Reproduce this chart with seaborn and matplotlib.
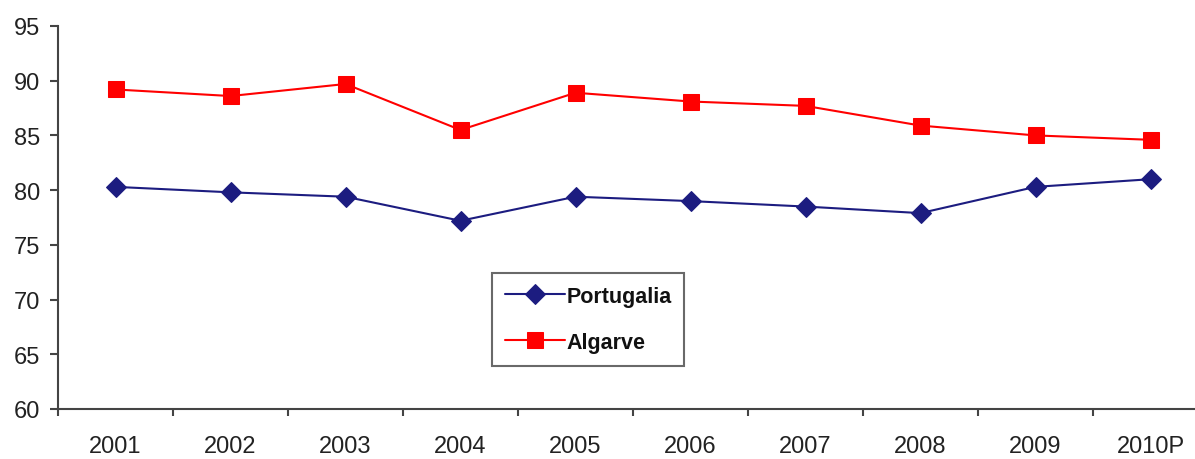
import matplotlib
matplotlib.use("Agg")
import matplotlib.pyplot as plt
import seaborn as sns
import pandas as pd
import numpy as np

# values
years = ['2001', '2002', '2003', '2004', '2005', '2006', '2007', '2008', '2009', '2010P']
portugalia = [80.3, 79.8, 79.4, 77.2, 79.4, 79.0, 78.5, 77.9, 80.3, 81.0]
algarve = [89.2, 88.6, 89.7, 85.5, 88.9, 88.1, 87.7, 85.9, 85.0, 84.6]

sns.set_style("white")
plt.rcParams['font.family'] = ['Liberation Sans', 'DejaVu Sans']

df = pd.DataFrame({
    'pos': list(range(len(years))) * 2,
    'value': portugalia + algarve,
    'series': ['Portugalia'] * len(years) + ['Algarve'] * len(years),
})

fig = plt.figure(figsize=(11.95, 4.6), dpi=100)
ax = fig.add_axes([58 / 1195, 50 / 460, 1150 / 1195, 383 / 460])

sns.lineplot(data=df[df['series'] == 'Portugalia'], x='pos', y='value', ax=ax,
             color='#1c1c80', marker='D', markersize=10, linewidth=1.5,
             markeredgecolor='#1c1c80', label='Portugalia')
sns.lineplot(data=df[df['series'] == 'Algarve'], x='pos', y='value', ax=ax,
             color='#ff0000', marker='s', markersize=12, linewidth=1.5,
             markeredgecolor='#ff0000', label='Algarve')

ax.set_xlim(-0.5, len(years) - 0.5)
ax.set_ylim(60, 95)
ax.set_yticks(np.arange(60, 96, 5))
ax.set_xticks(range(len(years)))
ax.set_xticklabels(years)
ax.set_xticks(np.arange(-0.5, len(years), 1), minor=True)
ax.tick_params(axis='x', which='major', bottom=True, length=0, pad=19, labelsize=17, colors='#222222')
ax.tick_params(axis='x', which='minor', bottom=True, length=5, width=1.5, direction='out', color='#444444')
ax.tick_params(axis='y', left=True, length=5.5, width=1.5, direction='out', labelsize=17,
               colors='#222222', pad=7.5)
ax.tick_params(axis='y', color='#444444')
ax.set_xlabel('')
ax.set_ylabel('')

sns.despine(ax=ax)
for side in ['left', 'bottom']:
    ax.spines[side].set_color('#444444')
    ax.spines[side].set_linewidth(1.5)

leg = ax.legend(loc='upper left', bbox_to_anchor=((492 - 58) / 1150, (410 - 274) / 383),
                borderaxespad=0, frameon=True, fancybox=False,
                prop={'weight': 'bold', 'size': 15.5},
                handlelength=2.8, handletextpad=0.05, borderpad=0.6, labelspacing=1.15)
leg.get_frame().set_edgecolor('#444444')
leg.get_frame().set_linewidth(1.5)
for t in leg.get_texts():
    t.set_color('#111111')

fig.savefig('out.png', dpi=100)
